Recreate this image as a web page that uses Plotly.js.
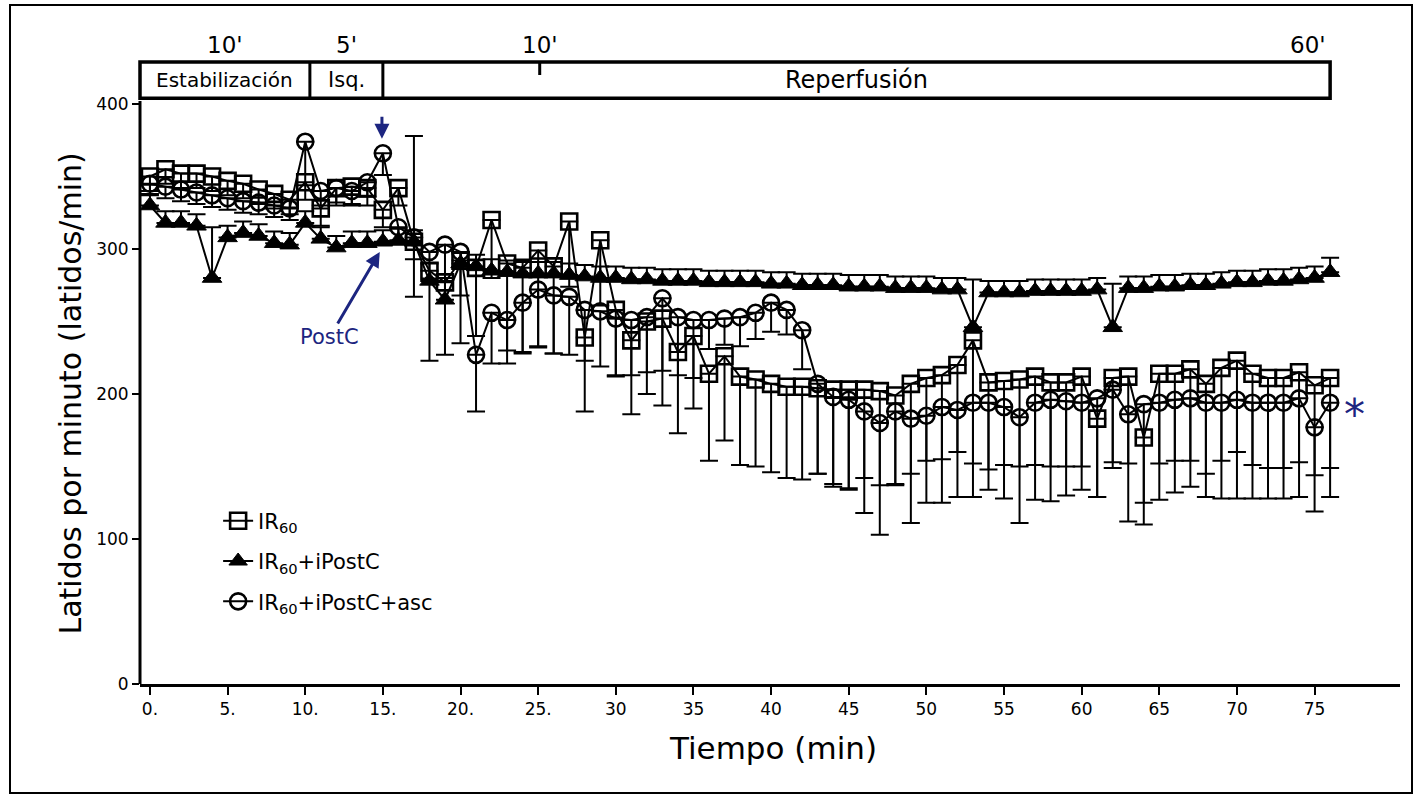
<!DOCTYPE html>
<html>
<head>
<meta charset="utf-8">
<script src="https://cdn.plot.ly/plotly-3.0.1.min.js"></script>
<style>html,body{margin:0;padding:0;background:#fff;}#chart{width:1423px;height:799px;}</style>
</head>
<body>
<div id="chart"></div>
<script>
// ---- data ----
const minutes = [0,1,2,3,4,5,6,7,8,9,10,11,12,13,14,15,16,17,18,19,20,21,22,23,24,25,26,27,28,29,30,31,32,33,34,35,36,37,38,39,40,41,42,43,44,45,46,47,48,49,50,51,52,53,54,55,56,57,58,59,60,61,62,63,64,65,66,67,68,69,70,71,72,73,74,75,76];

const ir60 = [350,355,352,352,350,347,345,341,338,334,
  346,328,342,343,342,327,342,305,285,277,
  292,287,320,290,287,299,288,319,239,306,
  258,237,250,252,229,240,214,226,212,210,
  207,205,205,204,203,203,203,202,199,207,
  211,213,220,237,208,209,210,212,208,208,
  212,183,211,212,170,214,214,217,207,218,
  223,214,211,211,215,206,211];
const ir60ErrMinus = [10,10,10,10,10,10,10,10,10,10,
  12,12,12,12,12,12,12,38,62,50,
  57,47,40,60,58,66,60,45,51,45,
  45,51,50,60,56,50,60,58,61,60,
  61,63,64,59,67,68,61,65,62,62,
  57,58,60,85,60,58,60,61,58,58,
  62,54,62,60,60,62,60,63,62,64,
  63,63,62,62,62,62,62];
const ir60ErrPlus = [0,0,0,0,0,0,0,0,0,0,
  0,0,0,0,0,0,0,73,0,0,
  0,0,0,0,0,0,0,0,0,0,
  0,0,0,0,0,0,0,0,0,0,
  0,0,0,0,0,0,0,0,0,0,
  0,0,0,0,0,0,0,0,0,0,
  0,0,0,0,0,0,0,0,0,0,
  0,0,0,0,0,0,0];

const postC = [330,318,318,316,280,308,311,309,304,303,
  318,307,301,304,304,305,306,305,278,265,
  290,288,285,284,283,283,283,282,281,280,
  280,279,279,278,278,278,277,277,277,277,
  276,276,275,275,275,274,274,274,273,273,
  273,272,272,246,270,270,270,271,271,271,
  271,272,246,273,273,274,274,275,275,276,
  277,277,278,278,279,280,284];
const postCErrPlus = [8,8,8,8,35,8,8,8,8,8,
  8,8,8,8,8,8,8,8,12,15,
  8,8,8,8,8,8,8,8,8,8,
  8,8,8,8,8,8,8,8,8,8,
  8,8,8,8,8,8,8,8,8,8,
  8,8,8,33,8,8,8,8,8,8,
  8,8,30,8,8,8,8,8,8,8,
  8,8,8,8,8,8,10];

const postCAsc = [345,343,341,339,337,335,333,332,330,328,
  374,340,342,340,346,366,315,308,298,303,
  298,227,256,251,263,272,268,267,258,257,
  252,251,253,266,253,251,251,252,253,256,
  263,258,244,207,198,196,188,180,188,183,
  185,191,189,194,194,191,184,194,196,195,
  194,197,203,186,193,194,196,197,194,194,
  196,194,194,194,197,177,194];
const postCAscErrMinus = [8,8,8,8,8,8,8,8,8,8,
  30,10,10,10,10,15,12,15,20,25,
  30,39,35,30,35,40,40,40,35,38,
  40,38,38,50,40,40,20,18,20,18,
  20,17,27,62,60,62,70,77,50,72,
  60,66,60,65,60,63,73,67,70,65,
  60,68,50,74,68,67,64,61,65,66,
  68,66,66,66,68,58,65];

const xTickVals = [0,5,10,15,20,25,30,35,40,45,50,55,60,65,70,75];
const xTickText = ['0.','5.','10.','15.','20.','25.','30','35','40','45','50','55','60','65','70','75'];
const yTickVals = [0,100,200,300,400];

const seriesNames = ['IR<sub>60</sub>','IR<sub>60</sub>+iPostC','IR<sub>60</sub>+iPostC+asc'];
const phaseLabels = ['Estabilización','Isq.','Reperfusión'];
const phaseEdges = [-0.64, 10.3, 15.0, 76.0];
const durationLabels = ["10'","5'","10'","60'"];
const durationPos = [4.83, 12.68, 25.1, 74.6];

// ---- chart ----
const FONT = 'DejaVu Sans, sans-serif';
const NAVY = '#1c2580';
const XR = [-0.64, 80.5];
const YR = [0, 460];
const xp = t => (t - XR[0]) / (XR[1] - XR[0]);
const yp = v => (v - YR[0]) / (YR[1] - YR[0]);

const common = {
  x: minutes, type: 'scatter', mode: 'lines+markers',
  line: {color: '#000', width: 2},
  cliponaxis: false
};

const traces = [
  Object.assign({}, common, {
    name: seriesNames[0], y: ir60, legendgroup: 'a',
    marker: {symbol: 'square-open', size: 16, color: '#000', line: {width: 2.6, color: '#000'}},
    error_y: {type: 'data', symmetric: false, array: ir60ErrPlus, arrayminus: ir60ErrMinus,
      color: '#000', thickness: 2, width: 9}
  }),
  Object.assign({}, common, {
    name: seriesNames[1], y: postC, legendgroup: 'b',
    marker: {symbol: 'triangle-up', size: 17, color: '#000', line: {width: 1, color: '#000'}},
    error_y: {type: 'data', symmetric: false, array: postCErrPlus, arrayminus: minutes.map(() => 0),
      color: '#000', thickness: 2, width: 9}
  }),
  Object.assign({}, common, {
    name: seriesNames[2], y: postCAsc, legendgroup: 'c',
    marker: {symbol: 'circle-open', size: 16, color: '#000', line: {width: 2.6, color: '#000'}},
    error_y: {type: 'data', symmetric: false, array: minutes.map(() => 0), arrayminus: postCAscErrMinus,
      color: '#000', thickness: 2, width: 9}
  })
];

const shapes = [
  // y axis line (0..400)
  {type: 'line', xref: 'paper', yref: 'paper', x0: 0, x1: 0, y0: 0, y1: yp(402), line: {color: '#000', width: 3}},
  // protocol bar
  {type: 'rect', xref: 'paper', yref: 'paper', x0: xp(phaseEdges[0]), x1: xp(phaseEdges[3]), y0: yp(404), y1: yp(429), line: {color: '#000', width: 3.5}},
  {type: 'line', xref: 'paper', yref: 'paper', x0: xp(phaseEdges[1]), x1: xp(phaseEdges[1]), y0: yp(404), y1: yp(429), line: {color: '#000', width: 3}},
  {type: 'line', xref: 'paper', yref: 'paper', x0: xp(phaseEdges[2]), x1: xp(phaseEdges[2]), y0: yp(404), y1: yp(429), line: {color: '#000', width: 3}},
  {type: 'line', xref: 'paper', yref: 'paper', x0: xp(25.1), x1: xp(25.1), y0: yp(420), y1: yp(429), line: {color: '#000', width: 3}},
  // figure frame
  {type: 'rect', xref: 'paper', yref: 'paper', x0: (10-140)/1260, x1: (1412-140)/1260, y0: (684-793)/667, y1: (684-5)/667, line: {color: '#000', width: 2}}
];

const annotations = [];
const phaseSizes = [20, 21, 24];
for (let i = 0; i < 3; i++) {
  const mid = (phaseEdges[i] + phaseEdges[i+1]) / 2;
  annotations.push({x: mid, y: 416.5, xref: 'x', yref: 'y', text: phaseLabels[i], showarrow: false,
    font: {family: FONT, size: phaseSizes[i], color: '#000'}});
}
for (let i = 0; i < 4; i++) {
  annotations.push({x: durationPos[i], y: 441, xref: 'x', yref: 'y', text: durationLabels[i], showarrow: false,
    font: {family: FONT, size: 23, color: '#000'}});
}
annotations.push(
  {x: 14.8, y: 298, xref: 'x', yref: 'y', text: 'PostC', showarrow: true, ax: -50, ay: 85,
   arrowcolor: NAVY, arrowwidth: 3, arrowhead: 2, arrowsize: 1, standoff: 0,
   font: {family: FONT, size: 21, color: NAVY}},
  {x: 14.94, y: 376, xref: 'x', yref: 'y', text: ' ', showarrow: true, ax: 0, ay: -26,
   arrowcolor: NAVY, arrowwidth: 3, arrowhead: 2, arrowsize: 1, standoff: 0,
   font: {family: FONT, size: 4, color: NAVY}},
  {x: 77.6, y: 186, xref: 'x', yref: 'y', text: '*', showarrow: false,
   font: {family: FONT, size: 42, color: NAVY}},
  {x: (50-140)/1260, y: (684-394)/667, xref: 'paper', yref: 'paper', text: 'Latidos por minuto (latidos/min)',
   textangle: -90, showarrow: false, font: {family: FONT, size: 30, color: '#000'}},
  {x: (773-140)/1260, y: (684-768)/667, xref: 'paper', yref: 'paper', text: 'Tiempo (min)',
   showarrow: false, font: {family: FONT, size: 31, color: '#000'}}
);

const layout = {
  width: 1423, height: 799,
  margin: {l: 140, r: 23, t: 17, b: 115},
  paper_bgcolor: '#fff', plot_bgcolor: '#fff',
  showlegend: true,
  legend: {x: 0.062, y: 0.275, xanchor: 'left', yanchor: 'top', bgcolor: 'rgba(0,0,0,0)',
    font: {family: FONT, size: 21, color: '#000'}, traceorder: 'grouped', tracegroupgap: 10, itemwidth: 30},
  xaxis: {range: XR, tickvals: xTickVals, ticktext: xTickText, ticks: 'outside', ticklen: 8, tickwidth: 2,
    tickcolor: '#000', showline: true, linecolor: '#000', linewidth: 3, showgrid: false, zeroline: false,
    tickfont: {family: FONT, size: 17, color: '#000'}},
  yaxis: {range: YR, tickvals: yTickVals, ticks: 'outside', ticklen: 7, tickwidth: 2, tickcolor: '#000',
    showline: false, showgrid: false, zeroline: false,
    tickfont: {family: FONT, size: 17, color: '#000'}},
  shapes: shapes,
  annotations: annotations
};

Plotly.newPlot('chart', traces, layout, {displayModeBar: false, staticPlot: true});
</script>
</body>
</html>
